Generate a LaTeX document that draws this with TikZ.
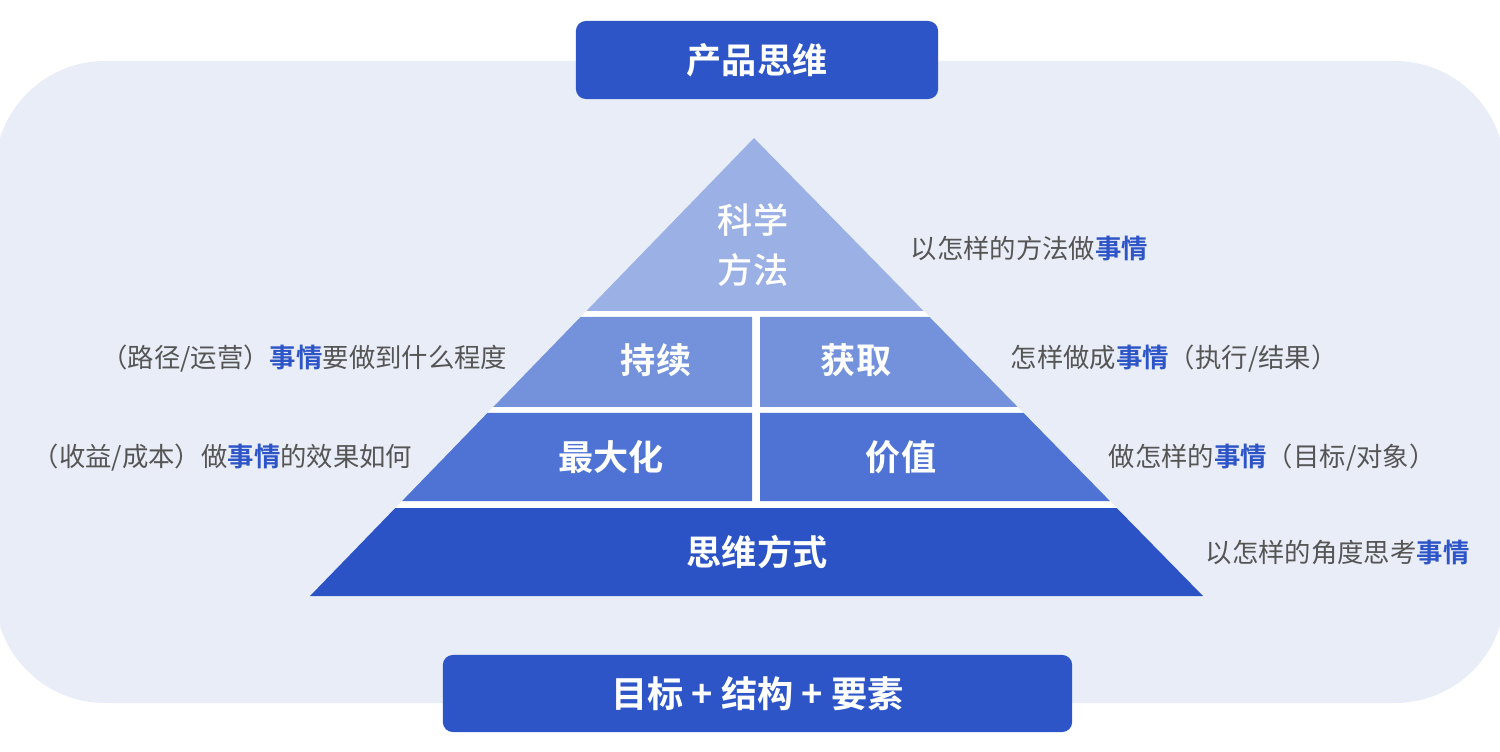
\documentclass[tikz,border=0pt]{standalone}
\usepackage{fontspec}
\setmainfont{Noto Sans CJK SC}[BoldFont={Noto Sans CJK SC Bold}]
\newfontfamily\mediumcjk{Noto Sans CJK SC Medium}
\definecolor{panelbg}{HTML}{E9EDF7}
\definecolor{boxblue}{HTML}{2D55C8}
\definecolor{layertop}{HTML}{9BB0E4}
\definecolor{layertwo}{HTML}{7492DB}
\definecolor{layerthree}{HTML}{4F73D4}
\definecolor{layerbase}{HTML}{2C53C6}
\definecolor{notegray}{HTML}{555555}
\newcommand{\shiqing}{\textbf{\textcolor{boxblue}{事情}}}
\begin{document}
\begin{tikzpicture}[x=0.01cm, y=-0.01cm,
  titlebox/.style={fill=boxblue, rounded corners=0.1cm, text=white, font=\fontsize{10}{12}\selectfont\bfseries},
  layertext/.style={text=white, align=center, font=\fontsize{10}{14.1}\selectfont\bfseries},
  note/.style={inner sep=0pt, text=notegray, font=\fontsize{7.5}{9}\selectfont}]
\useasboundingbox (0,0) rectangle (1500,752);
\fill[panelbg, rounded corners=1.1cm] (-5,61) rectangle (1505,703);
% pyramid, white underlay shows through the gaps
\fill[white] (754,138) -- (1203,596) -- (310,596) -- cycle;
\fill[layertop] (754,138) -- (923.6,311) -- (586.3,311) -- cycle;
\fill[layertwo] (580.5,317) -- (752,317) -- (752,407) -- (493.2,407) -- cycle;
\fill[layertwo] (760,317) -- (929.5,317) -- (1017.7,407) -- (760,407) -- cycle;
\fill[layerthree] (487.4,413) -- (752,413) -- (752,501) -- (402.1,501) -- cycle;
\fill[layerthree] (760,413) -- (1023.6,413) -- (1109.9,501) -- (760,501) -- cycle;
\fill[layerbase] (395.3,508) -- (1116.7,508) -- (1203,596) -- (310,596) -- cycle;
\node[layertext, font=\fontsize{10}{14.1}\selectfont\mediumcjk] (method) at (753,245) {科学\\方法};
\node[layertext] (keep) at (656,360) {持续};
\node[layertext] (gain) at (856,360) {获取};
\node[layertext] (max) at (611,457) {最大化};
\node[layertext] (value) at (901,457) {价值};
\node[layertext] (mind) at (757,552) {思维方式};
% side notes
\node[note, anchor=west] (howmethod) at (910,249) {以怎样的方法做\shiqing};
\node[note, anchor=east] (howfar) at (508,359) {（路径/运营）\shiqing 要做到什么程度};
\node[note, anchor=west] (howdone) at (1010,359) {怎样做成\shiqing（执行/结果）};
\node[note, anchor=east] (effect) at (413,458) {（收益/成本）做\shiqing 的效果如何};
\node[note, anchor=west] (what) at (1108,458) {做怎样的\shiqing（目标/对象）};
\node[note, anchor=west] (angle) at (1205,553) {以怎样的角度思考\shiqing};
% boxes
\node[titlebox, minimum width=3.62cm, minimum height=0.78cm] (product) at (757,60) {产品思维};
\node[titlebox, minimum width=6.29cm, minimum height=0.77cm, font=\fontsize{10.3}{12}\selectfont\bfseries] (elements) at (757.5,693.5) {目标 + 结构 + 要素};
\end{tikzpicture}
\end{document}
